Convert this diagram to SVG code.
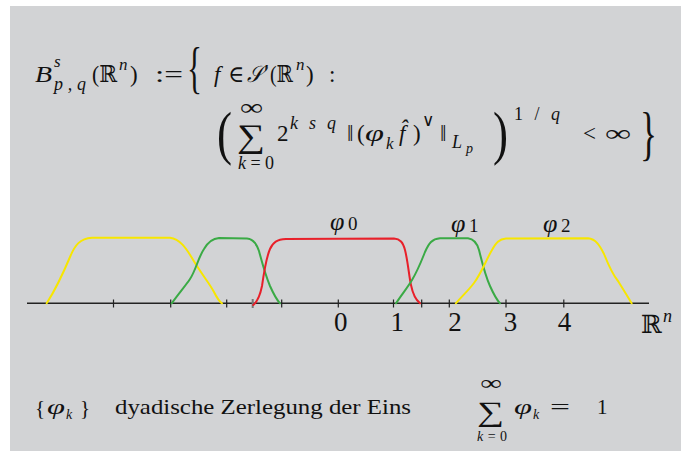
<svg xmlns="http://www.w3.org/2000/svg" width="681" height="451" viewBox="0 0 681 451">
<style>
text{font-family:'Liberation Serif','DejaVu Serif',serif;fill:#111}
.i{font-style:italic}
.f23{font-size:23px}
.f17{font-size:17px}
.f18{font-size:18px}
.f14{font-size:14px}
.f21{font-size:21px}
.curve{fill:none;stroke-width:2;stroke-linecap:round;stroke-linejoin:round}
.y{stroke:#f7e600}
.g{stroke:#3aaa45}
.r{stroke:#e8202a}
.tick{stroke:#222;stroke-width:1.2}
.lab{font-size:27px;text-anchor:middle}
</style>
<rect x="10" y="6" width="671" height="445" fill="#d2d3d5"/>

<g id="formula">
  <text class="i f23" x="35" y="82" textLength="17" lengthAdjust="spacingAndGlyphs">B</text>
  <text class="i f17" x="54" y="67">s</text>
  <text class="i f18" x="54" y="90" textLength="32" lengthAdjust="spacing">p,q</text>
  <text class="f23" x="92" y="82" textLength="25" lengthAdjust="spacingAndGlyphs">(ℝ</text>
  <text class="i f17" x="119" y="70">n</text>
  <text class="f23" x="130" y="82">)</text>
  <text class="f23" x="155" y="82" textLength="28" lengthAdjust="spacingAndGlyphs">:=</text>
  <text x="187" y="87" style="font-size:56px" textLength="15" lengthAdjust="spacingAndGlyphs">{</text>
  <text class="i f23" x="214" y="82">f</text>
  <text class="f23" x="228" y="82" textLength="16" lengthAdjust="spacingAndGlyphs">∈</text>
  <text class="i f23" x="247" y="82" textLength="16" lengthAdjust="spacingAndGlyphs">𝒮</text>
  <text class="f23" x="264" y="80">′</text>
  <text class="f23" x="270" y="82" textLength="23" lengthAdjust="spacingAndGlyphs">(ℝ</text>
  <text class="i f17" x="296" y="70">n</text>
  <text class="f23" x="306" y="82">)</text>
  <text class="f23" x="329" y="82">:</text>

  <text x="217" y="153" style="font-size:60px" textLength="15" lengthAdjust="spacingAndGlyphs">(</text>
  <text class="f23" x="240" y="115" textLength="23" lengthAdjust="spacingAndGlyphs">∞</text>
  <text x="237" y="147" style="font-size:33px" textLength="28" lengthAdjust="spacingAndGlyphs">∑</text>
  <text class="f18" x="238" y="169" textLength="36" lengthAdjust="spacing"><tspan class="i">k</tspan>=0</text>
  <text class="f23" x="277" y="141">2</text>
  <text class="i f18" x="290" y="129" textLength="46" lengthAdjust="spacing">ksq</text>
  <text class="f23" x="347" y="141">‖</text>
  <text class="f23" x="357" y="141">(</text>
  <text class="i f23" x="365" y="141" textLength="19" lengthAdjust="spacingAndGlyphs">φ</text>
  <text class="i f17" x="386" y="149">k</text>
  <text class="i f23" x="399" y="141">f̂</text>
  <text class="f23" x="413" y="141">)</text>
  <text class="f17" x="422" y="126">∨</text>
  <text class="f23" x="440" y="141">‖</text>
  <text class="i f18" x="452" y="148">L</text>
  <text class="i f14" x="466" y="153">p</text>
  <text x="493" y="153" style="font-size:60px" textLength="15" lengthAdjust="spacingAndGlyphs">)</text>
  <text class="f18" x="514" y="120" textLength="46" lengthAdjust="spacing">1/<tspan class="i">q</tspan></text>
  <text class="f23" x="583" y="141">&lt;</text>
  <text class="f23" x="605" y="141" textLength="26" lengthAdjust="spacingAndGlyphs">∞</text>
  <text x="640" y="153" style="font-size:60px" textLength="17" lengthAdjust="spacingAndGlyphs">}</text>
</g>

<g id="axis">
  <line x1="27" y1="303.3" x2="649" y2="303.3" stroke="#222" stroke-width="1.4"/>
  <path class="tick" d="M113.5,299.5V307.5M170.7,299.5V307.5M226.7,299.5V307.5M281.7,299.5V307.5M338.3,299.5V307.5M393.5,299.5V307.5M421.7,299.5V307.5M449.3,299.5V307.5M506,299.5V307.5M563.8,299.5V307.5"/>
  <line x1="252.7" y1="299" x2="252.7" y2="308" stroke="#777" stroke-width="2"/>
</g>

<g id="curves">
  <path id="yellow-left" class="curve y" d="M46.7,303.3 C52,295 62,276 70,257 C75,245 80,238.5 92,237.7 L170,237.7 C180,239 186,248 192,258 C200,272 210,284 214,292 C217,298 220,302 222,303.3"/>
  <path id="green-left" class="curve g" d="M171.7,303.3 C180,292 186,285 190,279 C196,270 198,258 204,249 C208,242 212,238.5 219,238 L247,238.5 C254,239 257,245 259,251 C262,262 265,274 270,286 C274,295 277,300 280,303.3"/>
  <path id="red" class="curve r" d="M253.3,305 C258,301 260,296 262,286 C264,272 266,258 270,249 C273,242 277,239.5 286,239 L394,238.5 C400,239 403,242 405,250 C408,262 409,276 411,285 C413,295 416,300 420,303.3"/>
  <path id="green-right" class="curve g" d="M396,303.3 C402,294 408,287 412,280 C418,270 421,262 425,252 C429,243 432,239 440,238.3 L468,238.3 C474,239 477,243 479,250 C482,262 485,275 490,286 C494,295 497,300 500,303.3"/>
  <path id="yellow-right" class="curve y" d="M455.9,303.3 C462,296 468,291 474,283 C482,272 486,260 492,250 C496,243 499,239 506,238.5 L588,238.3 C596,239 600,246 604,254 C608,264 612,274 618,281 C623,289 628,297 631.6,303.3"/>
</g>

<g id="labels">
  <text class="lab" x="340.7" y="331">0</text>
  <text class="lab" x="397.3" y="331">1</text>
  <text class="lab" x="455" y="331">2</text>
  <text class="lab" x="510.5" y="331">3</text>
  <text class="lab" x="564.5" y="331">4</text>
  <text x="641" y="333" style="font-size:25px">ℝ</text>
  <text class="i" x="663" y="322" style="font-size:18px">n</text>
  <text class="i" x="330" y="230" style="font-size:26px">φ</text>
  <text x="348" y="230" style="font-size:19px">0</text>
  <text class="i" x="451" y="232" style="font-size:26px">φ</text>
  <text x="469" y="232" style="font-size:19px">1</text>
  <text class="i" x="543" y="232" style="font-size:26px">φ</text>
  <text x="561" y="232" style="font-size:19px">2</text>
</g>

<g id="caption">
  <text x="35" y="415" style="font-size:21px">{</text>
  <text class="i f21" x="47" y="414" textLength="18" lengthAdjust="spacingAndGlyphs">φ</text>
  <text class="i f14" x="66" y="419">k</text>
  <text x="80" y="415" style="font-size:21px">}</text>
  <text class="f21" x="115" y="414" textLength="296" lengthAdjust="spacingAndGlyphs">dyadische Zerlegung der Eins</text>
  <text class="f21" x="480" y="390" textLength="22" lengthAdjust="spacingAndGlyphs">∞</text>
  <text x="477" y="421" style="font-size:28px" textLength="27" lengthAdjust="spacingAndGlyphs">∑</text>
  <text class="f14" x="477" y="441" textLength="30" lengthAdjust="spacing"><tspan class="i">k</tspan>=0</text>
  <text class="i f21" x="514" y="414" textLength="18" lengthAdjust="spacingAndGlyphs">φ</text>
  <text class="i f14" x="533" y="419">k</text>
  <text class="f21" x="550" y="414" textLength="20" lengthAdjust="spacingAndGlyphs">=</text>
  <text class="f21" x="597" y="414">1</text>
</g>
</svg>
